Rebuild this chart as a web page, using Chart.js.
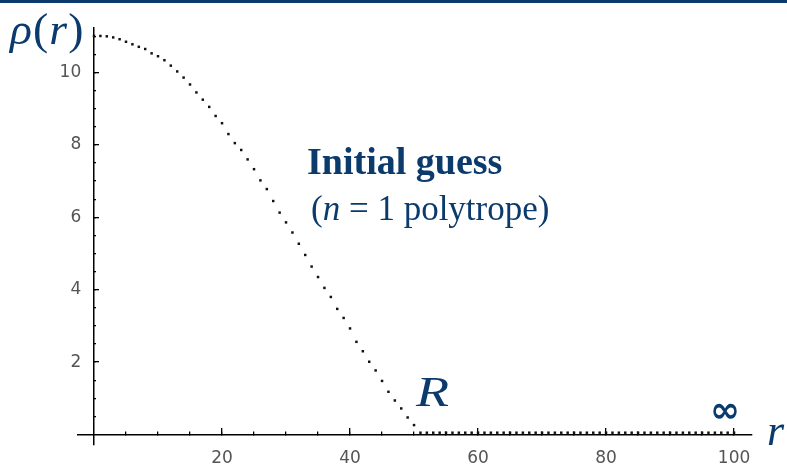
<!DOCTYPE html>
<html><head><meta charset="utf-8">
<script src="https://cdn.jsdelivr.net/npm/chart.js@4.4.1/dist/chart.umd.min.js"></script>
<style>
html,body{margin:0;padding:0;background:#fff;}
#wrap{position:relative;width:787px;height:466px;overflow:hidden;background:#fff;}
#bar{position:absolute;left:0;top:0;width:787px;height:3px;background:#0b3a6c;}
canvas{position:absolute;left:0;top:0;}
.t{position:absolute;color:#0b3a6c;font-family:"Liberation Serif","Times New Roman",serif;white-space:nowrap;line-height:1;transform-origin:0 0;}
</style></head><body>
<div id="wrap">
<canvas id="c" width="787" height="466"></canvas>
<div id="bar"></div>
<div class="t" style="left:10px;top:8px;font-size:44px;letter-spacing:1px;transform:scaleX(1.04);"><i>ρ</i>(<i>r</i>)</div>
<div class="t" style="left:767px;top:409px;font-size:44px;"><i>r</i></div>
<div class="t" style="left:416px;top:370px;font-size:43px;transform:scaleX(1.26);"><i>R</i></div>
<div class="t" style="left:710px;top:392px;font-size:36px;font-weight:bold;font-family:'DejaVu Sans',sans-serif;">∞</div>
<div class="t" style="left:307px;top:142px;font-size:38px;font-weight:bold;">Initial guess</div>
<div class="t" style="left:311px;top:191px;font-size:35px;">(<i>n</i> = 1 polytrope)</div>
</div>
<script>
// radius r (sample points)
const rValues = [0,1,2,3,4,5,6,7,8,9,10,11,12,13,14,15,16,17,18,19,20,21,22,23,24,25,26,27,28,29,30,
  31,32,33,34,35,36,37,38,39,40,41,42,43,44,45,46,47,48,49,50,51,52,53,54,55,56,57,58,59,60,
  61,62,63,64,65,66,67,68,69,70,71,72,73,74,75,76,77,78,79,80,81,82,83,84,85,86,87,88,89,90,
  91,92,93,94,95,96,97,98,99,100];
// density rho(r)
const rhoValues = [11.01,11.01,11.00,10.97,10.92,10.85,10.78,10.71,10.65,10.53,10.45,10.34,10.19,10.03,9.86,9.67,
  9.45,9.25,9.05,8.80,8.60,8.30,8.05,7.86,7.60,7.33,7.02,6.78,6.45,6.13,5.86,5.58,5.27,4.96,4.64,
  4.35,4.05,3.80,3.47,3.22,2.93,2.56,2.30,2.01,1.77,1.48,1.18,0.94,0.72,0.47,0.26,
  0.05,0.05,0.05,0.05,0.05,0.05,0.05,0.05,0.05,0.05,0.05,0.05,0.05,0.05,0.05,0.05,0.05,0.05,0.05,0.05,
  0.05,0.05,0.05,0.05,0.05,0.05,0.05,0.05,0.05,0.05,0.05,0.05,0.05,0.05,0.05,0.05,0.05,0.05,0.05,0.05,
  0.05,0.05,0.05,0.05,0.05,0.05,0.05,0.05,0.05,0.05];
// tick values
const xMinorTicks = [5,10,15,20,25,30,35,40,45,50,55,60,65,70,75,80,85,90,95,100];
const xMajorTicks = [20,40,60,80,100];
const yMinorTicks = [0.5,1,1.5,2,2.5,3,3.5,4,4.5,5,5.5,6,6.5,7,7.5,8,8.5,9,9.5,10,10.5,11];
const yMajorTicks = [2,4,6,8,10];
const xRange = [-2.5, 102.8];
const yRange = [-0.29, 11.23];

const setTicks = arr => s => { s.ticks = arr.map(v => ({value: v})); };
const zeroH = s => { s.height = 0; };
const zeroW = s => { s.width = 0; };
const tickFont = {family: '"DejaVu Sans", Verdana, sans-serif', size: 17};
const tickColor = '#555';

new Chart(document.getElementById('c'), {
  type: 'scatter',
  data: {
    datasets: [{
      data: rValues.map((r, i) => ({x: r, y: rhoValues[i]})),
      showLine: false,
      pointStyle: 'rect',
      pointRadius: 1.75,
      pointBackgroundColor: '#111',
      pointBorderWidth: 0,
      xAxisID: 'x', yAxisID: 'y'
    }]
  },
  options: {
    responsive: false,
    animation: false,
    events: [],
    layout: {padding: {left: 78, right: 35, top: 28, bottom: 21}},
    plugins: {legend: {display: false}, tooltip: {enabled: false}},
    scales: {
      x: {
        type: 'linear', position: {y: 0}, min: xRange[0], max: xRange[1],
        afterBuildTicks: setTicks(xMinorTicks), afterFit: zeroH,
        ticks: {display: false},
        grid: {drawOnChartArea: false, drawTicks: true, tickLength: -4, color: '#000', lineWidth: 1.3},
        border: {display: true, color: '#000', width: 1.5}
      },
      xMajor: {
        type: 'linear', axis: 'x', position: {y: 0}, min: xRange[0], max: xRange[1],
        afterBuildTicks: setTicks(xMajorTicks), afterFit: zeroH,
        ticks: {display: true, padding: 21, color: tickColor, font: tickFont, callback: v => String(v)},
        grid: {drawOnChartArea: false, drawTicks: true, tickLength: -7, color: '#000', lineWidth: 1.3},
        border: {display: false}
      },
      y: {
        type: 'linear', position: {x: 0}, min: yRange[0], max: yRange[1],
        afterBuildTicks: setTicks(yMinorTicks), afterFit: zeroW,
        ticks: {display: false},
        grid: {drawOnChartArea: false, drawTicks: true, tickLength: -3, color: '#000', lineWidth: 1.3},
        border: {display: true, color: '#000', width: 1.5}
      },
      yMajor: {
        type: 'linear', axis: 'y', position: {x: 0}, min: yRange[0], max: yRange[1],
        afterBuildTicks: setTicks(yMajorTicks), afterFit: zeroW,
        ticks: {display: false},
        grid: {drawOnChartArea: false, drawTicks: true, tickLength: -5, color: '#000', lineWidth: 1.3},
        border: {display: false}
      },
      yLabels: {
        type: 'linear', axis: 'y', position: {x: -2.0}, min: yRange[0], max: yRange[1],
        afterBuildTicks: setTicks(yMajorTicks), afterFit: zeroW,
        ticks: {display: true, padding: 0, color: tickColor, font: tickFont, callback: v => String(v)},
        grid: {display: false, drawTicks: false},
        border: {display: false}
      }
    }
  }
});
</script>
</body></html>
